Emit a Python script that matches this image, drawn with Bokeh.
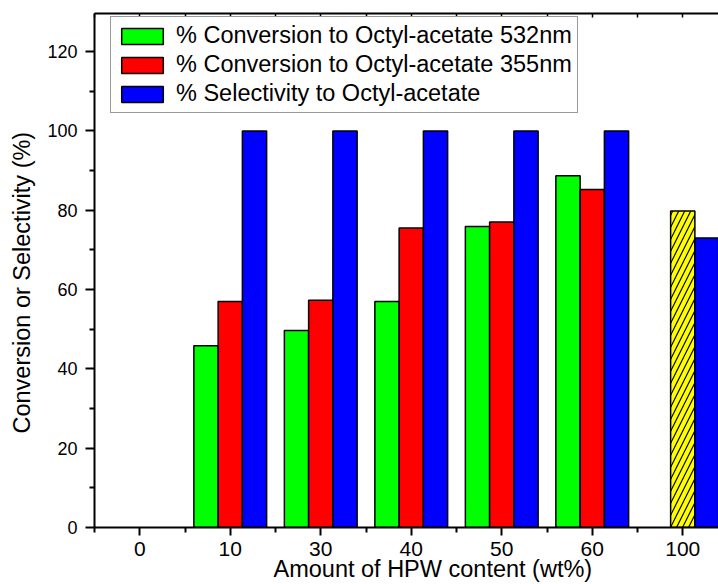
from bokeh.plotting import figure
from bokeh.models import (ColumnDataSource, Range1d, FixedTicker, LinearAxis,
                          Legend, LegendItem, Title)
from bokeh.transform import dodge
from bokeh.embed import file_html
from bokeh.resources import INLINE

# ---- data ----
categories = ["0", "10", "30", "40", "50", "60", "100"]
bar_cats = ["10", "30", "40", "50", "60"]
conv_532 = [45.8, 49.7, 57.0, 75.9, 88.7]
conv_355 = [57.0, 57.3, 75.5, 77.0, 85.2]
selectivity = [100.0, 100.0, 100.0, 100.0, 100.0]
hpw_cats = ["100"]
hpw_conv = [79.8]
hpw_sel = [73.0]
y_ticks = [0, 20, 40, 60, 80, 100, 120]
y_minor = [10, 30, 50, 70, 90, 110]

FONT = "Liberation Sans"
BW = 0.268

pos = {c: i for i, c in enumerate(categories)}
src = ColumnDataSource(dict(x=[pos[c] for c in bar_cats], g=conv_532,
                            r=conv_355, b=selectivity))
src_h = ColumnDataSource(dict(x=[pos[c] for c in hpw_cats], y=hpw_conv, b=hpw_sel))

p = figure(width=718, height=584, output_backend="svg", toolbar_location=None,
           x_range=Range1d(-0.5, 6.395), y_range=Range1d(0, 129.6),
           min_border_left=94, min_border_right=0, min_border_top=13,
           min_border_bottom=57, outline_line_color=None)
p.grid.visible = False
p.background_fill_color = "white"

g = p.vbar(x=dodge("x", -BW, range=p.x_range), top="g", width=BW, source=src,
           fill_color="#00FF00", line_color="black", line_width=1.5)
r = p.vbar(x=dodge("x", 0, range=p.x_range), top="r", width=BW, source=src,
           fill_color="#FF0000", line_color="black", line_width=1.5)
b = p.vbar(x=dodge("x", BW, range=p.x_range), top="b", width=BW, source=src,
           fill_color="#0000FF", line_color="black", line_width=1.5)
p.vbar(x=dodge("x", 0, range=p.x_range), top="y", width=BW, source=src_h,
       fill_color="#FFFF00", line_color="black", line_width=1.5,
       hatch_pattern="/", hatch_color="black", hatch_scale=12, hatch_weight=1.2)
p.vbar(x=dodge("x", BW, range=p.x_range), top="b", width=BW, source=src_h,
       fill_color="#0000FF", line_color="black", line_width=1.5)

# x axis
xt = FixedTicker(ticks=list(range(len(categories))),
                 minor_ticks=[i - 0.5 for i in range(len(categories) + 1)])
xa = p.xaxis[0]
xa.ticker = xt
xa.major_label_overrides = {i: c for i, c in enumerate(categories)}
xa.major_label_text_font = FONT
xa.major_label_text_font_size = "21px"
xa.major_label_text_color = "black"
xa.major_label_standoff = 6
xa.axis_line_width = 2
xa.major_tick_line_width = 2
xa.minor_tick_line_width = 2
xa.major_tick_out = 8
xa.major_tick_in = 0
xa.minor_tick_out = 5
xa.minor_tick_in = 0

# y axis
ya = p.yaxis[0]
ya.ticker = FixedTicker(ticks=y_ticks, minor_ticks=y_minor)
ya.major_label_text_font = FONT
ya.major_label_text_font_size = "18px"
ya.major_label_text_color = "black"
ya.major_label_standoff = 8
ya.axis_line_width = 2
ya.major_tick_line_width = 2
ya.minor_tick_line_width = 2
ya.major_tick_out = 9
ya.major_tick_in = 0
ya.minor_tick_out = 5
ya.minor_tick_in = 0

# top axis (line with inward ticks)
top = LinearAxis(ticker=xt, major_label_text_font_size="0px",
                 major_label_standoff=0, axis_line_width=2,
                 major_tick_in=4, major_tick_out=0, minor_tick_in=4,
                 minor_tick_out=0, major_tick_line_width=1.5,
                 minor_tick_line_width=1.5)
top.major_label_overrides = {i: "" for i in range(len(categories))}
p.add_layout(top, "above")

# axis titles
p.add_layout(Title(text="Amount of HPW content (wt%)", align="left", offset=179,
                   vertical_align="bottom", standoff=-9, text_font=FONT,
                   text_font_size="23.5px", text_font_style="normal",
                   text_color="black"), "below")
p.add_layout(Title(text="Conversion or Selectivity (%)", align="left", offset=94,
                   vertical_align="top", standoff=16, text_font=FONT,
                   text_font_size="23.5px", text_font_style="normal",
                   text_color="black"), "left")

legend = Legend(items=[
    LegendItem(label="% Conversion to Octyl-acetate 532nm", renderers=[g]),
    LegendItem(label="% Conversion to Octyl-acetate 355nm", renderers=[r]),
    LegendItem(label="% Selectivity to Octyl-acetate", renderers=[b]),
], location=(16, 414))
legend.label_text_font = FONT
legend.label_text_font_size = "23.5px"
legend.label_text_color = "black"
legend.glyph_width = 52
legend.glyph_height = 20
legend.label_height = 20
legend.spacing = 2
legend.padding = 5
legend.margin = 0
legend.label_standoff = 8
legend.border_line_color = "#333333"
legend.border_line_width = 1
legend.background_fill_alpha = 1
p.add_layout(legend, "center")

open("out.html", "w").write(file_html(p, INLINE))
